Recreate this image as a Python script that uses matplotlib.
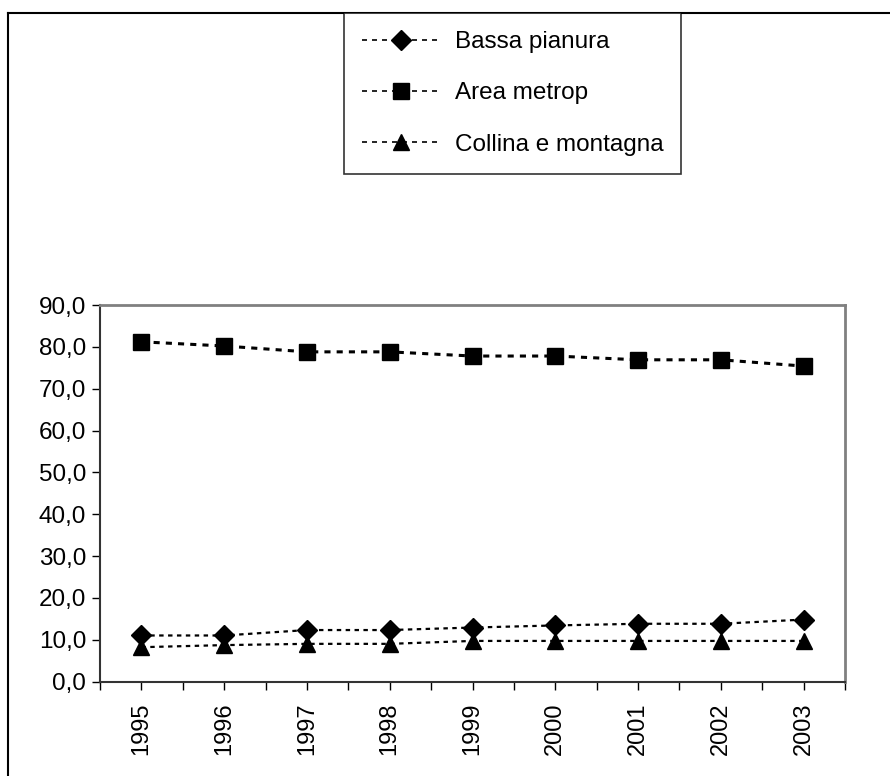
import matplotlib.pyplot as plt
from matplotlib.lines import Line2D
from matplotlib.ticker import FuncFormatter, FixedLocator

plt.rcParams['font.family'] = ['Liberation Sans', 'DejaVu Sans']

# ========== data ==========
years = ["1995", "1996", "1997", "1998", "1999", "2000", "2001", "2002", "2003"]
bassa_pianura = [11.0, 11.0, 12.3, 12.3, 12.9, 13.4, 13.8, 13.8, 14.8]
area_metrop = [81.2, 80.2, 78.8, 78.8, 77.8, 77.8, 76.9, 76.9, 75.4]
collina_montagna = [8.2, 8.7, 9.0, 9.0, 9.7, 9.7, 9.7, 9.7, 9.7]

fig = plt.figure(figsize=(8.9, 7.76), dpi=100)
ax = fig.add_axes([100 / 890, (776 - 681.5) / 776, 745 / 890, 376.5 / 776])

x = list(range(len(years)))
dot = (0, (2, 2))
ax.plot(x, bassa_pianura, linestyle=dot, lw=1.6, color="black",
        marker="D", markersize=10, label="Bassa pianura")
ax.plot(x, area_metrop, linestyle=dot, lw=2.2, color="black",
        marker="s", markersize=11, label="Area metrop")
ax.plot(x, collina_montagna, linestyle=dot, lw=1.6, color="black",
        marker="^", markersize=12, label="Collina e montagna")

ax.set_xlim(-0.5, len(years) - 0.5)
ax.set_ylim(0, 90)
ax.set_yticks(range(0, 91, 10))
ax.yaxis.set_major_formatter(FuncFormatter(lambda v, p: f"{v:.1f}".replace(".", ",")))
ax.set_xticks(x)
ax.set_xticklabels(years, rotation=90)
ax.xaxis.set_minor_locator(FixedLocator([i - 0.5 for i in range(len(years) + 1)]))
ax.tick_params(axis="x", which="both", direction="out", length=6, width=1, pad=9, labelsize=17)
ax.tick_params(axis="y", direction="out", length=6, width=1, labelsize=17.5, pad=4)

for s in ["top", "right"]:
    ax.spines[s].set_color("#808080")
    ax.spines[s].set_linewidth(2)
for s in ["left", "bottom"]:
    ax.spines[s].set_color("#333333")
    ax.spines[s].set_linewidth(1.5)

# legend
leg = fig.legend(loc="upper left", bbox_to_anchor=(344 / 890, 1 - 13 / 776),
                 frameon=True, fancybox=False, fontsize=17.5, handlelength=3.2,
                 labelspacing=1.2, borderpad=0.75, handletextpad=0.6,
                 borderaxespad=0)
leg.get_frame().set_edgecolor("black")
leg.get_frame().set_linewidth(1.2)
for h in leg.legend_handles:
    h.set_linewidth(1.2)
    h.set_linestyle((0, (3, 3)))

# outer frame (left and top only visible)
fig.add_artist(Line2D([8 / 890, 1], [1 - 13 / 776, 1 - 13 / 776], transform=fig.transFigure,
                      color="black", lw=1.5))
fig.add_artist(Line2D([8 / 890, 8 / 890], [0, 1 - 13 / 776], transform=fig.transFigure,
                      color="black", lw=1.5))

plt.savefig("out.png", dpi=100)
plt.close()
